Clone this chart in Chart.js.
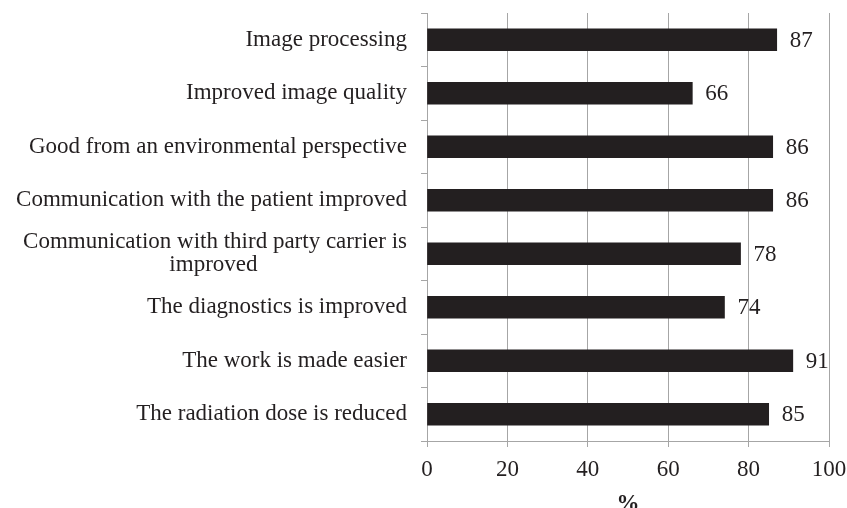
<!DOCTYPE html>
<html>
<head>
<meta charset="utf-8">
<script src="https://cdn.jsdelivr.net/npm/chart.js@4/dist/chart.umd.min.js"></script>
<style>
  html, body { margin: 0; padding: 0; background: #fff; }
</style>
</head>
<body>
<canvas id="chart" width="847" height="508"></canvas>
<script>
const CATEGORIES = [
    'Image processing',
    'Improved image quality',
    'Good from an environmental perspective',
    'Communication with the patient improved',
    ['Communication with third party carrier is', 'improved' + '\u00a0'.repeat(26)],
    'The diagnostics is improved',
    'The work is made easier',
    'The radiation dose is reduced',
];
const VALUES = [87, 66, 86, 86, 78, 74, 91, 85];
const X_MIN = 0;
const X_MAX = 100;
const X_STEP = 20;
const AXIS_TITLE = '%';

const FONT = '"Liberation Serif", "Times New Roman", serif';
const INK = '#231f20';
const GRID = '#a6a6a6';

// value labels at the end of each bar
const valueLabels = {
    id: 'valueLabels',
    afterDatasetsDraw(chart) {
        const ctx = chart.ctx;
        const meta = chart.getDatasetMeta(0);
        ctx.save();
        ctx.font = `23px ${FONT}`;
        ctx.fillStyle = INK;
        ctx.textAlign = 'left';
        ctx.textBaseline = 'middle';
        meta.data.forEach((bar, i) => {
            ctx.fillText(String(VALUES[i]), bar.x + 13, bar.y + 1);
        });
        ctx.restore();
    }
};

new Chart(document.getElementById('chart'), {
    type: 'bar',
    data: {
        labels: CATEGORIES,
        datasets: [{
            data: VALUES,
            backgroundColor: INK,
            borderWidth: 0,
            barThickness: 22,
        }]
    },
    options: {
        indexAxis: 'y',
        responsive: false,
        animation: false,
        layout: {
            padding: { top: 13, right: 18, left: 0, bottom: 0 }
        },
        plugins: {
            legend: { display: false },
            tooltip: { enabled: false },
        },
        scales: {
            x: {
                min: X_MIN,
                max: X_MAX,
                ticks: {
                    stepSize: X_STEP,
                    color: INK,
                    padding: 9,
                    font: { family: FONT, size: 23 },
                },
                grid: {
                    color: GRID,
                    tickColor: GRID,
                    tickLength: 6,
                },
                border: { color: GRID },
                title: {
                    display: true,
                    text: AXIS_TITLE,
                    color: INK,
                    font: { family: FONT, size: 23, weight: 'bold', lineHeight: 1 },
                    padding: { top: 0, bottom: -8 },
                },
                afterFit(scale) {
                    scale.height = 67;
                    scale.paddingLeft = 0;
                    scale.paddingRight = 0;
                },
            },
            y: {
                ticks: {
                    color: INK,
                    padding: 14,
                    font: { family: FONT, size: 23, lineHeight: 1 },
                },
                grid: {
                    offset: true,
                    drawOnChartArea: false,
                    tickColor: GRID,
                    tickLength: 6,
                },
                border: { color: GRID },
                afterFit(scale) {
                    scale.width = 427;
                    scale.paddingTop = 0;
                    scale.paddingBottom = 0;
                },
            },
        },
    },
    plugins: [valueLabels],
});
</script>
</body>
</html>
